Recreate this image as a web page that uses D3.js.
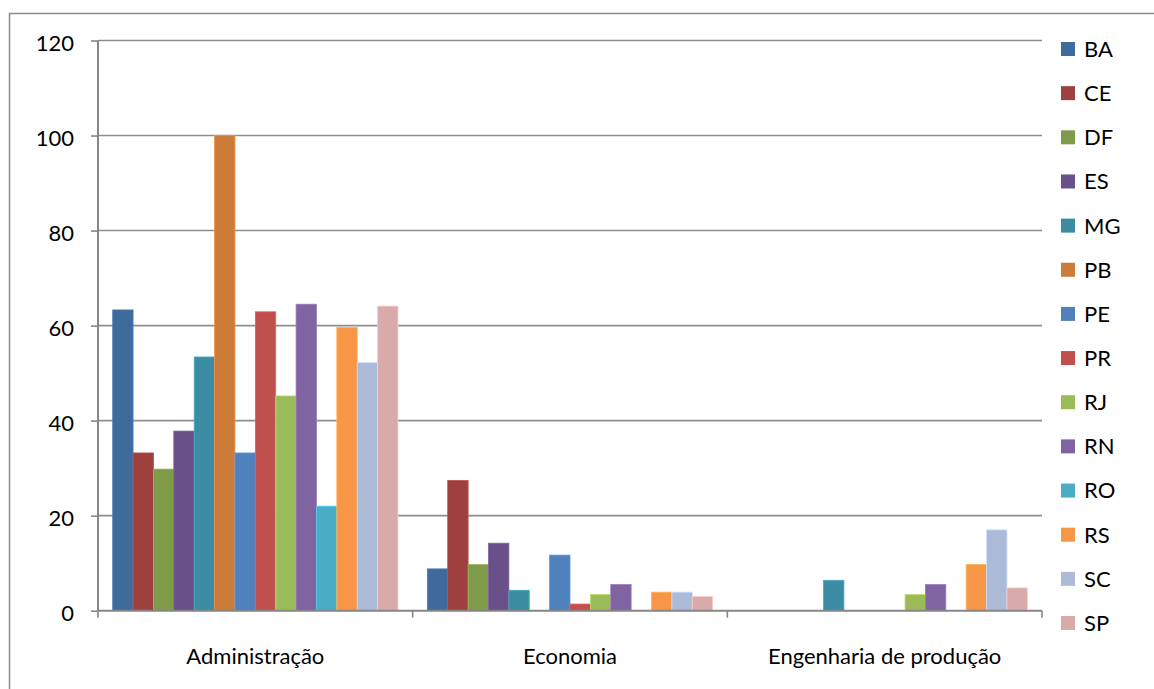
<!DOCTYPE html>
<html>
<head>
<meta charset="utf-8">
<script src="https://cdn.jsdelivr.net/npm/d3@7"></script>
<style>
  html, body { margin: 0; padding: 0; background: #fff; }
  svg { display: block; font-family: Lato, "Open Sans", sans-serif; }
</style>
</head>
<body>
<svg id="chart" width="1154" height="689"></svg>
<script>
// Course categories along the x axis
const categories = ["Administração", "Economia", "Engenharia de produção"];

// States (one bar per state in each category)
const states = ["BA", "CE", "DF", "ES", "MG", "PB", "PE", "PR", "RJ", "RN", "RO", "RS", "SC", "SP"];

// Values per state, in category order
const valuesBA = [63.3, 8.8, 0];
const valuesCE = [33.2, 27.4, 0];
const valuesDF = [29.8, 9.7, 0];
const valuesES = [37.8, 14.2, 0];
const valuesMG = [53.4, 4.3, 6.4];
const valuesPB = [100, 0, 0];
const valuesPE = [33.2, 11.7, 0];
const valuesPR = [62.9, 1.4, 0];
const valuesRJ = [45.2, 3.4, 3.4];
const valuesRN = [64.5, 5.5, 5.5];
const valuesRO = [22.0, 0, 0];
const valuesRS = [59.6, 3.9, 9.7];
const valuesSC = [52.2, 3.9, 17.0];
const valuesSP = [64.1, 3.0, 4.8];

const seriesValues = [valuesBA, valuesCE, valuesDF, valuesES, valuesMG, valuesPB, valuesPE,
                      valuesPR, valuesRJ, valuesRN, valuesRO, valuesRS, valuesSC, valuesSP];

const colors = ["#3f6a9c", "#9e413e", "#7f9a48", "#6a5088", "#3c8da3", "#cc7b38", "#4f81bd",
                "#c0504d", "#9bbb59", "#8064a2", "#4bacc6", "#f79646", "#aabad7", "#d9aaaa"];

const yTicks = [0, 20, 40, 60, 80, 100, 120];

const svg = d3.select("#chart");
const plot = { left: 98, right: 1042, top: 40.5, bottom: 610.7 };

// Outer chart frame (extends past the visible area on right and bottom)
svg.append("rect")
  .attr("x", 9.5).attr("y", 13.5)
  .attr("width", 1300).attr("height", 800)
  .attr("fill", "none").attr("stroke", "#8c8c8c").attr("stroke-width", 1.5);

const x0 = d3.scaleBand().domain(categories).range([plot.left, plot.right]).padding(0);
const groupGap = x0.bandwidth() * 0.0934;
const x1 = d3.scaleBand().domain(states).range([groupGap / 2, x0.bandwidth() - groupGap / 2]).padding(0);
const y = d3.scaleLinear().domain([0, 120]).range([plot.bottom, plot.top]);
const color = d3.scaleOrdinal().domain(states).range(colors);

// Horizontal gridlines
svg.append("g")
  .selectAll("line")
  .data(yTicks.filter(d => d > 0))
  .join("line")
  .attr("x1", plot.left).attr("x2", plot.right)
  .attr("y1", d => y(d)).attr("y2", d => y(d))
  .attr("stroke", "#8e8e8e").attr("stroke-width", 1.6);

// Bars
const groups = svg.append("g")
  .selectAll("g")
  .data(categories)
  .join("g")
  .attr("transform", d => `translate(${x0(d)},0)`);

groups.selectAll("rect")
  .data((c, ci) => states.map((s, si) => ({ state: s, value: seriesValues[si][ci] })))
  .join("rect")
  .filter(d => d.value > 0)
  .attr("x", d => x1(d.state))
  .attr("width", x1.bandwidth())
  .attr("y", d => y(d.value))
  .attr("height", d => y(0) - y(d.value))
  .attr("fill", d => color(d.state))
  .attr("stroke", d => d3.color(color(d.state)).brighter(0.5))
  .attr("stroke-width", 0.8);

// Y axis
const yAxis = d3.axisLeft(y).tickValues(yTicks).tickSize(7).tickPadding(17).tickFormat(d3.format("d"));
const yg = svg.append("g").attr("transform", `translate(${plot.left},0)`).call(yAxis);
yg.select(".domain").attr("stroke", "#868686").attr("stroke-width", 2).attr("d", `M0,${plot.top}V${plot.bottom}`);
yg.selectAll(".tick line").attr("stroke", "#868686").attr("stroke-width", 1.6);
yg.selectAll(".tick text").attr("font-size", 22).attr("fill", "#000").attr("font-family", "Lato, sans-serif").attr("dy", "0.45em");

// X axis
const xAxis = d3.axisBottom(x0).tickSize(0).tickPadding(0);
const xg = svg.append("g").attr("transform", `translate(0,${plot.bottom})`).call(xAxis);
xg.select(".domain").attr("stroke", "#868686").attr("stroke-width", 2).attr("d", `M${plot.left},0H${plot.right}`);
xg.selectAll(".tick text").attr("font-size", 22).attr("fill", "#000").attr("font-family", "Lato, sans-serif").attr("y", 38);

// Category separator ticks on the x axis
const sepPositions = [plot.left].concat(categories.map(c => x0(c) + x0.bandwidth()));
xg.append("g")
  .selectAll("line")
  .data(sepPositions)
  .join("line")
  .attr("x1", d => d).attr("x2", d => d)
  .attr("y1", 0).attr("y2", 7)
  .attr("stroke", "#868686").attr("stroke-width", 1.6);

// Legend
const legendY = d3.scalePoint().domain(states).range([49, 623]);
const legend = svg.append("g")
  .selectAll("g")
  .data(states)
  .join("g")
  .attr("transform", d => `translate(1061,${legendY(d)})`);
legend.append("rect")
  .attr("x", 0).attr("y", -7).attr("width", 14).attr("height", 14)
  .attr("fill", d => color(d));
legend.append("text")
  .attr("x", 23).attr("y", 0).attr("dy", "0.36em")
  .attr("font-size", 22).attr("fill", "#000")
  .text(d => d);
</script>
</body>
</html>
